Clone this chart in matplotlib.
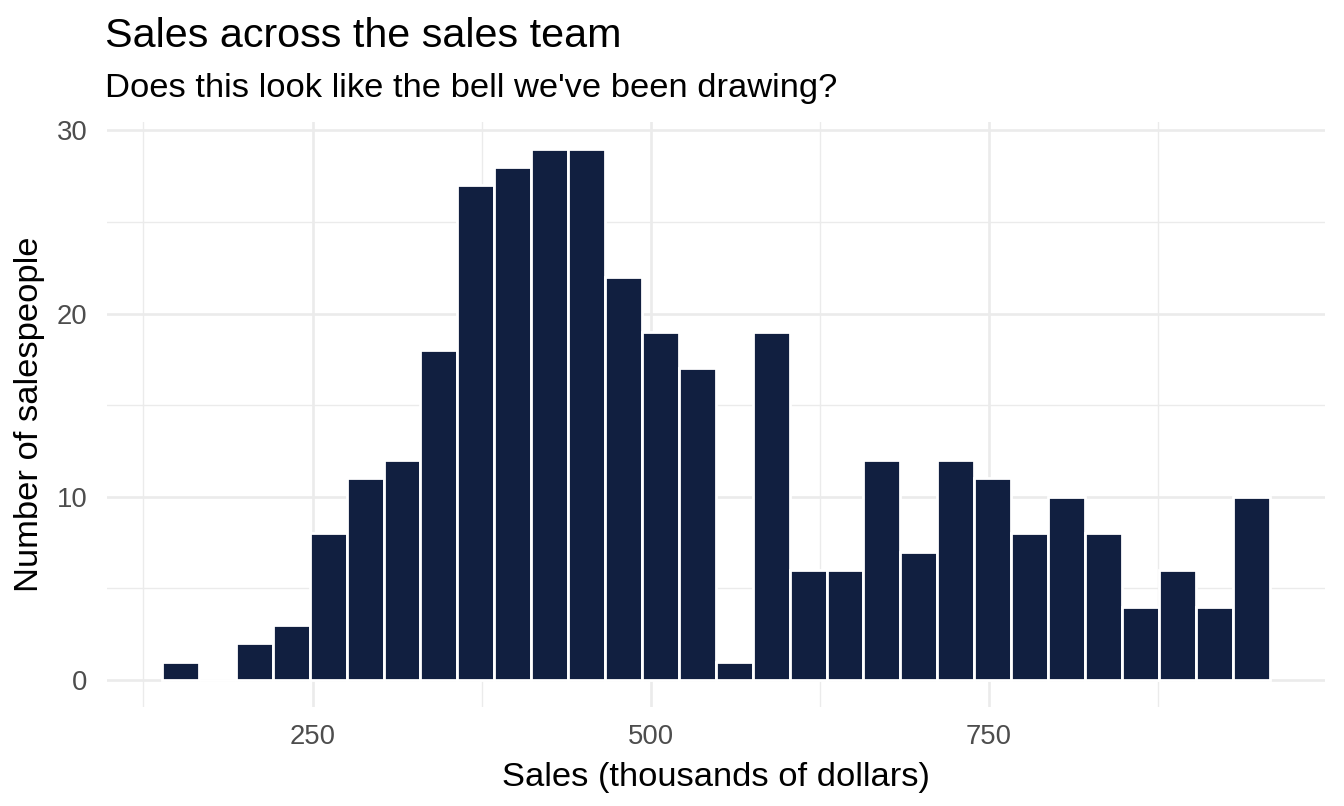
import numpy as np
import matplotlib
matplotlib.use("Agg")
import matplotlib.pyplot as plt
from matplotlib.ticker import MultipleLocator

plt.rcParams['font.family'] = ['Liberation Sans', 'DejaVu Sans']

# --- DATA (histogram, 30 bins) ---
sales_min = 138.7
sales_max = 957.4
n_bins = 30
counts = [1, 0, 2, 3, 8, 11, 12, 18, 27, 28,
          29, 29, 22, 19, 17, 1, 19, 6, 6, 12,
          7, 12, 11, 8, 10, 8, 4, 6, 4, 10]
x_ticks = [250, 500, 750]
y_ticks = [0, 10, 20, 30]

title = "Sales across the sales team"
subtitle = "Does this look like the bell we've been drawing?"
x_label = "Sales (thousands of dollars)"
y_label = "Number of salespeople"

bin_edges = np.linspace(sales_min, sales_max, n_bins + 1)
bin_width = bin_edges[1] - bin_edges[0]

# --- STYLE ---
bar_color = '#111F40'
grid_color = '#EBEBEB'
tick_color = '#4D4D4D'

fig = plt.figure(figsize=(13.44, 8.06), dpi=100)
fig.patch.set_facecolor('white')
ax = fig.add_axes([106.6 / 1344, 1 - 706.6 / 806, (1325 - 106.6) / 1344, (706.6 - 122) / 806])

ax.bar(bin_edges[:-1], counts, width=bin_width, align='edge',
       color=bar_color, edgecolor='white', linewidth=2.0, zorder=3)

# ggplot-like 5% expansion
span = sales_max - sales_min
ax.set_xlim(sales_min - 0.05 * span, sales_max + 0.05 * span)
ymax = max(counts)
ax.set_ylim(-0.05 * ymax, ymax * 1.05)

ax.set_xticks(x_ticks)
ax.set_yticks(y_ticks)
ax.xaxis.set_minor_locator(MultipleLocator(125))
ax.yaxis.set_minor_locator(MultipleLocator(5))
ax.set_xticks([125, 375, 625, 875], minor=True)

ax.grid(which='major', color=grid_color, linewidth=1.9, zorder=0)
ax.grid(which='minor', color=grid_color, linewidth=1.0, zorder=0)
ax.set_axisbelow(True)

for s in ax.spines.values():
    s.set_visible(False)

ax.tick_params(which='both', length=0, labelsize=19.8, labelcolor=tick_color)
ax.tick_params(axis='y', pad=13.9)
ax.tick_params(axis='x', pad=12.5)

ax.set_xlabel(x_label, fontsize=24.8, color='black', labelpad=9)
ax.set_ylabel(y_label, fontsize=24.8, color='black', labelpad=8)

fig.text(105 / 1344, 1 - 47.3 / 806, title, fontsize=29.7, color='black', va='baseline', ha='left')
fig.text(105 / 1344, 1 - 97.3 / 806, subtitle, fontsize=24.8, color='black', va='baseline', ha='left')

fig.savefig('out.png', dpi=100, facecolor='white')
